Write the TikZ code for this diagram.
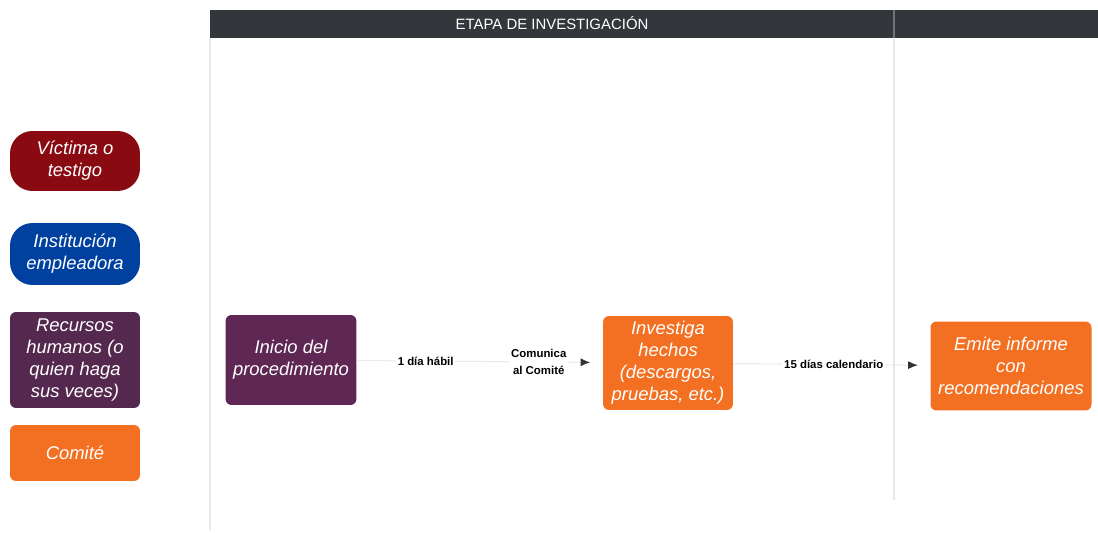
\documentclass[tikz,border=0pt]{standalone}
\usepackage{fontspec}
\setmainfont{Liberation Sans}
\usetikzlibrary{arrows.meta}

\definecolor{hdrgray}{HTML}{33373C}
\definecolor{vicred}{HTML}{8A0A12}
\definecolor{instblue}{HTML}{0041A0}
\definecolor{rhpurple}{HTML}{55284F}
\definecolor{inipurple}{HTML}{5E2754}
\definecolor{comorange}{HTML}{F36F21}

\begin{document}
\begin{tikzpicture}[x=0.02cm,y=-0.02cm]

\tikzset{lane/.style = {draw=black!9, line width=0.6pt}}
\tikzset{box/.style = {shape=rectangle, rounded corners=0.12cm, text=white, align=center, inner sep=0pt,
  font=\fontsize{10.5}{12.6}\selectfont\itshape}}
\tikzset{pill/.style = {box, rounded corners=0.45cm}}
\tikzset{lbl/.style = {fill=white, align=center, inner sep=1pt, font=\fontsize{6.5}{9.5}\selectfont\bfseries}}
\tikzset{edge/.style = {draw=black!8, line width=0.6pt, -{Latex[length=5.5pt,width=4.5pt,color=black!80]}, shorten >=7pt}}

\useasboundingbox (0,0) rectangle (1098,533);

% header and lanes
\fill[hdrgray] (210,10) rectangle (1098,38);
\draw[black!55, line width=0.6pt] (894,10) -- (894,38);
\node[text=white, font=\fontsize{8.5}{10}\selectfont] (etapa) at (552,23) {ETAPA DE INVESTIGACIÓN};
\draw[lane] (210,38) -- (210,530);
\draw[lane] (894,38) -- (894,500);

% legend
\node[pill, fill=vicred, minimum width=2.6cm, minimum height=1.2cm] (victima) at (75,161) {Víctima o\\testigo};
\node[pill, fill=instblue, minimum width=2.6cm, minimum height=1.24cm] (institucion) at (75,254) {Institución\\empleadora};
\node[box, fill=rhpurple, minimum width=2.6cm, minimum height=1.92cm] (recursos) at (75,360) {Recursos\\humanos (o\\quien haga\\sus veces)};
\node[box, fill=comorange, minimum width=2.6cm, minimum height=1.12cm] (comite) at (75,453) {Comité};

% steps
\node[box, fill=inipurple, minimum width=2.62cm, minimum height=1.8cm] (inicio) at (291,360) {Inicio del\\procedimiento};
\node[box, fill=comorange, minimum width=2.6cm, minimum height=1.88cm] (investiga) at (668,363) {Investiga\\hechos\\(descargos,\\pruebas, etc.)};
\node[box, fill=comorange, minimum width=3.22cm, minimum height=1.78cm] (emite) at (1011,366) {Emite informe\\con\\recomendaciones};

% edges
\draw[edge] (inicio) -- node[lbl, pos=0.28] {1 día hábil} node[lbl, pos=0.74] {Comunica\\al Comité} (investiga);
\draw[edge] (investiga) -- node[lbl, pos=0.51] {15 días calendario} (emite);
\end{tikzpicture}
\end{document}
